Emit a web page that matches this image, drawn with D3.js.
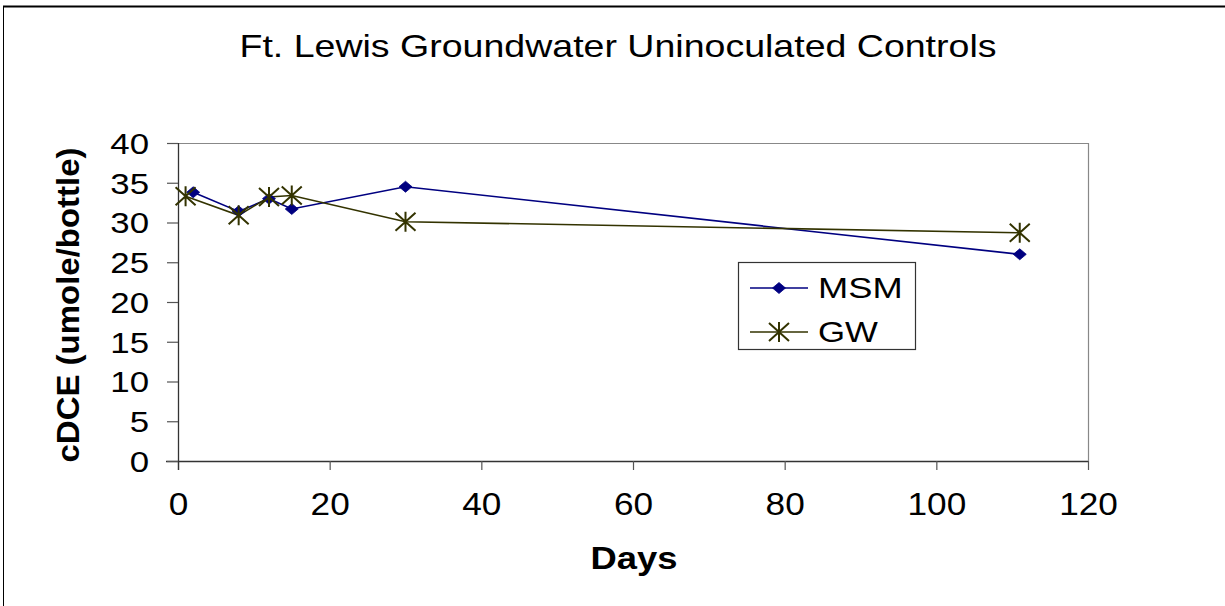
<!DOCTYPE html>
<html><head><meta charset="utf-8">
<script src="https://cdn.jsdelivr.net/npm/d3@7"></script>
<style>
html,body{margin:0;padding:0;background:#fff;}
svg{display:block;}
text{font-family:"Liberation Sans",Arial,sans-serif;fill:#000;}
</style></head>
<body>
<svg id="chart" width="1225" height="606"></svg>
<script>
const title = "Ft. Lewis Groundwater Uninoculated Controls";
const xLabel = "Days";
const yLabel = "cDCE (umole/bottle)";
const seriesNames = ["MSM", "GW"];
const msmDays = [2, 8, 12, 15, 30, 111];
const msmValues = [33.8, 31.4, 33.0, 31.7, 34.5, 26.0];
const gwDays = [1, 8, 12, 15, 30, 111];
const gwValues = [33.3, 30.9, 33.2, 33.4, 30.1, 28.7];
const xTicks = [0, 20, 40, 60, 80, 100, 120];
const yTicks = [0, 5, 10, 15, 20, 25, 30, 35, 40];

const svg = d3.select("#chart");
const x = d3.scaleLinear().domain([0, 120]).range([178, 1088]);
const y = d3.scaleLinear().domain([0, 40]).range([461, 143]);

function stretch(sel, factor){
  sel.each(function(){
    const L = this.getComputedTextLength();
    d3.select(this).attr("textLength", L*factor).attr("lengthAdjust","spacingAndGlyphs");
  });
}

// outer chart border
svg.append("line").attr("x1",3).attr("x2",1225).attr("y1",6.5).attr("y2",6.5).attr("stroke","#000").attr("stroke-width",2);
svg.append("line").attr("x1",3.5).attr("x2",3.5).attr("y1",6).attr("y2",606).attr("stroke","#000").attr("stroke-width",1);

// plot area border (top/right)
svg.append("path").attr("d",`M${x(0)},${y(40)+0.5}H${x(120)+0.5}V${y(0)}`)
  .attr("fill","none").attr("stroke","#888").attr("stroke-width",1.2);

// axes
const xAxis = d3.axisBottom(x).tickValues(xTicks).tickSize(9).tickPadding(22).tickFormat(d3.format("d"));
const gx = svg.append("g").attr("transform",`translate(0,${y(0)})`).call(xAxis);
gx.select(".domain").attr("d",`M166,0.5H${x(120)}`).attr("stroke","#333").attr("stroke-width",1.3);
gx.selectAll(".tick line").attr("stroke","#555").attr("stroke-width",1.2);
gx.selectAll(".tick text").attr("font-size",32).attr("font-family","Liberation Sans, Arial").attr("fill","#000").attr("dy","0.71em").call(stretch,1.1);

const yAxis = d3.axisLeft(y).tickValues(yTicks).tickSize(11).tickPadding(18).tickFormat(d3.format("d"));
const gy = svg.append("g").attr("transform",`translate(${x(0)},0)`).call(yAxis);
gy.select(".domain").attr("d",`M0.5,${y(40)}V${y(0)+9}`).attr("stroke","#333").attr("stroke-width",1.3);
gy.selectAll(".tick line").attr("stroke","#555").attr("stroke-width",1.2);
gy.selectAll(".tick text").attr("font-size",29).attr("font-family","Liberation Sans, Arial").attr("fill","#000").attr("dy","0.36em").call(stretch,1.2);

// title and axis labels
svg.append("text").attr("x",618).attr("y",57).attr("text-anchor","middle").attr("font-size",32)
  .attr("textLength",757).attr("lengthAdjust","spacingAndGlyphs").text(title);
svg.append("text").attr("x",634).attr("y",569).attr("text-anchor","middle").attr("font-size",31).attr("font-weight","bold")
  .attr("textLength",87).attr("lengthAdjust","spacingAndGlyphs").text(xLabel);
svg.append("text").attr("transform","translate(79,305) rotate(-90)").attr("text-anchor","middle").attr("font-size",32).attr("font-weight","bold")
  .attr("textLength",315).attr("lengthAdjust","spacingAndGlyphs").text(yLabel);

const colors = {MSM:"#000080", GW:"#333300"};
const line = d3.line().x(d=>x(d[0])).y(d=>y(d[1]));
const msm = msmDays.map((d,i)=>[d,msmValues[i]]);
const gw = gwDays.map((d,i)=>[d,gwValues[i]]);

function diamond(g, cx, cy, c){
  g.append("path").attr("d",`M${cx},${cy-5.5}L${cx+6.5},${cy}L${cx},${cy+5.5}L${cx-6.5},${cy}Z`).attr("fill",c).attr("stroke",c).attr("stroke-width",0.8);
}
function star(g, cx, cy, c){
  const w=10, h=9;
  g.append("path").attr("d",`M${cx-w},${cy-h}L${cx+w},${cy+h}M${cx-w},${cy+h}L${cx+w},${cy-h}M${cx},${cy-h-1}V${cy+h+1}`)
    .attr("fill","none").attr("stroke",c).attr("stroke-width",2);
}

svg.append("path").datum(msm).attr("d",line).attr("fill","none").attr("stroke",colors.MSM).attr("stroke-width",1.6);
svg.append("path").datum(gw).attr("d",line).attr("fill","none").attr("stroke",colors.GW).attr("stroke-width",1.6);
const gm = svg.append("g");
msm.forEach(d=>diamond(gm, x(d[0]), y(d[1]), colors.MSM));
const gg = svg.append("g");
gw.forEach(d=>star(gg, x(d[0]), y(d[1]), colors.GW));

// legend
const lg = svg.append("g");
lg.append("rect").attr("x",738.5).attr("y",262.5).attr("width",177).attr("height",87).attr("fill","#fff").attr("stroke","#333").attr("stroke-width",1.2);
const legendRows = [{name:seriesNames[0], y:288, m:diamond, c:colors.MSM, f:1.25},{name:seriesNames[1], y:332, m:star, c:colors.GW, f:1.2}];
legendRows.forEach(r=>{
  lg.append("line").attr("x1",750).attr("x2",808).attr("y1",r.y).attr("y2",r.y).attr("stroke",r.c).attr("stroke-width",1.6);
  r.m(lg, 779, r.y, r.c);
  lg.append("text").attr("x",818).attr("y",r.y+10).attr("font-size",29).text(r.name).call(stretch, r.f);
});
</script>
</body></html>
